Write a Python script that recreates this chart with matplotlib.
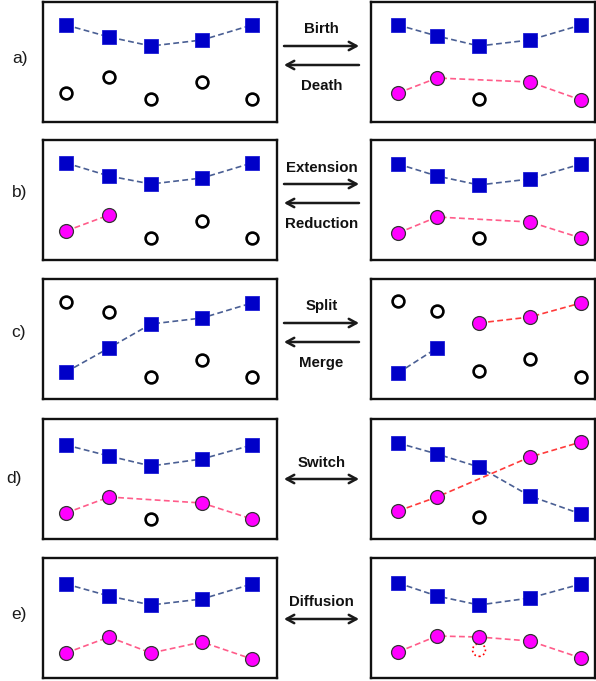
import numpy as np
import matplotlib
matplotlib.use("Agg")
import matplotlib.pyplot as plt

plt.rcParams['font.family'] = ['Liberation Sans', 'DejaVu Sans']

nan = np.nan
# time positions of the five samples (left / right panels)
T_LEFT = [23, 66, 108, 159, 209]
T_RIGHT = [27, 66, 108, 159, 210]

# values (measured downward from the panel top)
a_left_sq = [23, 35, 44, 38, 23]
a_left_open = [91, 75, 97, 80, 97]
a_right_sq = [23, 34, 44, 38, 23]
a_right_mag = [91, 76, nan, 80, 98]
a_right_open = [nan, nan, 97, nan, nan]

b_left_sq = [23, 36, 44, 38, 23]
b_left_mag = [91, 75, nan, nan, nan]
b_left_open = [nan, nan, 98, 81, 98]
b_right_sq = [24, 36, 45, 39, 24]
b_right_mag = [93, 77, nan, 82, 98]
b_right_open = [nan, nan, 98, nan, nan]

c_left_sq = [93, 69, 45, 39, 24]
c_left_open = [23, 33, 98, 81, 98]
c_right_sq = [94, 69, nan, nan, nan]
c_right_mag = [nan, nan, 44, 38, 24]
c_right_open = [22, 32, 92, 80, 98]

d_left_sq = [26, 37, 47, 40, 26]
d_left_mag = [94, 78, nan, 84, 100]
d_left_open = [nan, nan, 100, nan, nan]
d_right_sq = [24, 35, 48, 77, 95]
d_right_mag = [92, 78, nan, 38, 23]
d_right_open = [nan, nan, 98, nan, nan]

e_left_sq = [26, 38, 47, 41, 26]
e_left_mag = [95, 79, 95, 84, 101]
e_right_sq = [25, 38, 47, 40, 26]
e_right_mag = [94, 78, 79, 83, 100]
e_right_ghost = [nan, nan, 92, nan, nan]

row_labels = ['a)', 'b)', 'c)', 'd)', 'e)']
forward_labels = ['Birth', 'Extension', 'Split', None, None]
backward_labels = ['Death', 'Reduction', 'Merge', None, None]
both_labels = [None, None, None, 'Switch', 'Diffusion']

W, H = 596, 681
fig = plt.figure(figsize=(W / 100, H / 100), dpi=100)

row_tops = [2, 140, 279, 419, 558]
row_h = 120
left_x, left_w = 43, 234
right_x, right_w = 371, 224

BLUE = '#0000c8'
BLUE_LINE = '#4a5f94'
MAG = '#ff00ff'
PINK_LINE = '#ff5c8a'
RED_LINE = '#ff3b3b'


def panel(x0, w, top, t, sq=None, mag=None, opn=None, ghost=None, magline=PINK_LINE):
    ax = fig.add_axes([x0 / W, 1 - (top + row_h) / H, w / W, row_h / H])
    ax.set_xlim(0, w)
    ax.set_ylim(row_h, 0)
    ax.set_xticks([])
    ax.set_yticks([])
    for s in ax.spines.values():
        s.set_linewidth(1.7)
        s.set_color('#111111')
    t = np.asarray(t, float)
    if sq is not None:
        y = np.asarray(sq, float)
        m = ~np.isnan(y)
        ax.plot(t[m], y[m], ls=(0, (3.5, 2)), lw=1.2, color=BLUE_LINE, zorder=2)
        ax.plot(t[m], y[m], ls='none', marker='s', ms=9.5, mfc=BLUE,
                mec='#1c1cd6', mew=0.6, zorder=3)
    if mag is not None:
        y = np.asarray(mag, float)
        m = ~np.isnan(y)
        ax.plot(t[m], y[m], ls=(0, (3.5, 2)), lw=1.2, color=magline, zorder=2)
        ax.plot(t[m], y[m], ls='none', marker='o', ms=10, mfc=MAG,
                mec='#333333', mew=0.9, zorder=4)
    if opn is not None:
        y = np.asarray(opn, float)
        m = ~np.isnan(y)
        ax.plot(t[m], y[m], ls='none', marker='o', ms=8.5, mfc='white',
                mec='black', mew=1.9, zorder=3)
    if ghost is not None:
        y = np.asarray(ghost, float)
        m = ~np.isnan(y)
        ax.scatter(t[m], y[m], s=85, facecolors='none', edgecolors='red',
                   linewidths=1.2, linestyles=':', zorder=3)
    return ax


top = row_tops
panel(left_x, left_w, top[0], T_LEFT, sq=a_left_sq, opn=a_left_open)
panel(right_x, right_w, top[0], T_RIGHT, sq=a_right_sq, mag=a_right_mag, opn=a_right_open)
panel(left_x, left_w, top[1], T_LEFT, sq=b_left_sq, mag=b_left_mag, opn=b_left_open)
panel(right_x, right_w, top[1], T_RIGHT, sq=b_right_sq, mag=b_right_mag, opn=b_right_open)
panel(left_x, left_w, top[2], T_LEFT, sq=c_left_sq, opn=c_left_open)
panel(right_x, right_w, top[2], T_RIGHT, sq=c_right_sq, mag=c_right_mag, opn=c_right_open,
      magline=RED_LINE)
panel(left_x, left_w, top[3], T_LEFT, sq=d_left_sq, mag=d_left_mag, opn=d_left_open)
panel(right_x, right_w, top[3], T_RIGHT, sq=d_right_sq, mag=d_right_mag, opn=d_right_open,
      magline=RED_LINE)
panel(left_x, left_w, top[4], T_LEFT, sq=e_left_sq, mag=e_left_mag)
panel(right_x, right_w, top[4], T_RIGHT, sq=e_right_sq, mag=e_right_mag, ghost=e_right_ghost)

# overlay in pixel coordinates for arrows and labels
ov = fig.add_axes([0, 0, 1, 1], zorder=10)
ov.set_xlim(0, W)
ov.set_ylim(H, 0)
ov.axis('off')
ov.patch.set_alpha(0)

label_pos = [(20, 58), (20, 193), (18, 333), (14, 478), (19, 615)]
for lab, (lx, ly) in zip(row_labels, label_pos):
    ov.text(lx, ly, lab, fontsize=12.5, ha='center', va='center', color='#1a1a1a')

ax0, ax1 = 284, 359
cx = (ax0 + ax1) / 2
arrow_kw = dict(arrowstyle='->,head_length=0.55,head_width=0.3', lw=1.8, color='#1a1a1a',
                shrinkA=0, shrinkB=0)
double_kw = dict(arrowstyle='<->,head_length=0.55,head_width=0.3', lw=1.8, color='#1a1a1a',
                 shrinkA=0, shrinkB=0)
fwd_y = [46, 184, 323]
bwd_y = [65, 203, 342]
fwd_lab_y = [29, 168, 306]
bwd_lab_y = [86, 224, 363]
for i in range(3):
    ov.annotate('', xy=(ax1, fwd_y[i]), xytext=(ax0, fwd_y[i]), arrowprops=arrow_kw)
    ov.annotate('', xy=(ax0, bwd_y[i]), xytext=(ax1, bwd_y[i]), arrowprops=arrow_kw)
    ov.text(cx, fwd_lab_y[i], forward_labels[i], fontsize=10.8, fontweight='bold',
            ha='center', va='center', color='#111111')
    ov.text(cx, bwd_lab_y[i], backward_labels[i], fontsize=10.8, fontweight='bold',
            ha='center', va='center', color='#111111')
dbl_y = [479, 619]
dbl_lab_y = [463, 602]
for j, i in enumerate([3, 4]):
    ov.annotate('', xy=(ax1, dbl_y[j]), xytext=(ax0, dbl_y[j]), arrowprops=double_kw)
    ov.text(cx, dbl_lab_y[j], both_labels[i], fontsize=10.8, fontweight='bold',
            ha='center', va='center', color='#111111')

fig.savefig('out.png', dpi=100)
